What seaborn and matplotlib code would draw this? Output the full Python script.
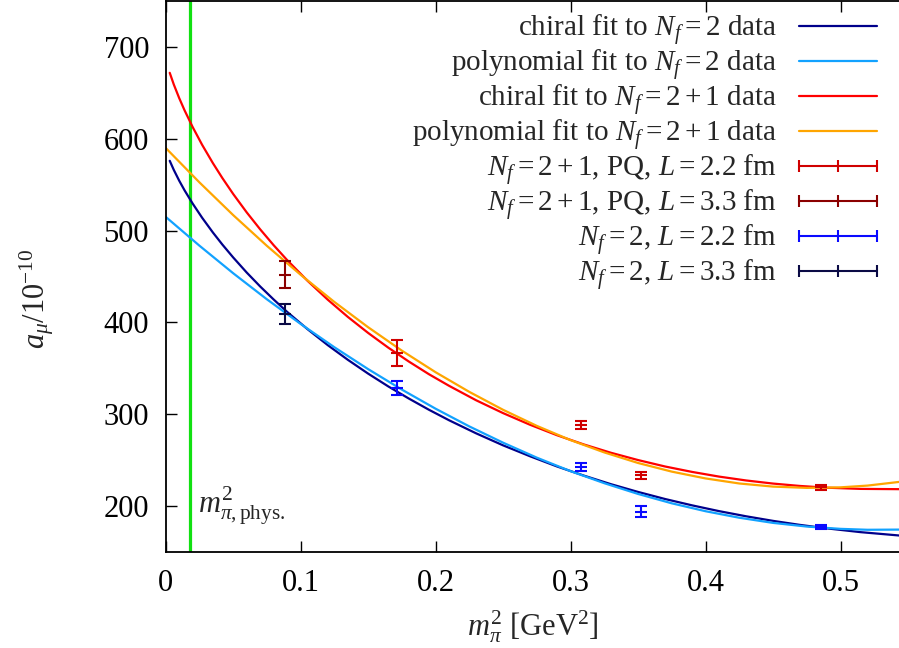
import matplotlib
matplotlib.use("Agg")
import matplotlib.pyplot as plt
import seaborn as sns
from matplotlib.lines import Line2D
from matplotlib.legend_handler import HandlerLine2D

# ---- fit curves, values ----
x_chiral = [0.003, 0.006, 0.01, 0.014, 0.02, 0.027, 0.035, 0.042, 0.05, 0.06,
            0.07, 0.08, 0.09, 0.105, 0.12, 0.135, 0.15, 0.165, 0.18, 0.195,
            0.21, 0.23, 0.25, 0.27, 0.29, 0.31, 0.33, 0.35, 0.37, 0.39,
            0.41, 0.43, 0.45, 0.47, 0.49, 0.515, 0.544]
chiral_nf2 = [576.0, 566.1, 554.4, 543.8, 529.4, 514.0, 497.9, 484.8, 470.8, 454.4,
              439.2, 425.0, 411.5, 392.8, 375.4, 359.3, 344.3, 330.3, 317.3, 305.0,
              293.5, 279.3, 266.2, 254.3, 243.2, 233.2, 223.9, 215.5, 207.8, 200.9,
              194.6, 189.0, 184.0, 179.6, 175.8, 171.7, 168.0]
chiral_nf21 = [671.8, 659.1, 644.3, 630.9, 612.7, 593.4, 573.4, 557.2, 539.9, 519.9,
               501.4, 484.1, 467.9, 445.5, 424.9, 406.0, 388.6, 372.5, 357.6, 343.7,
               331.0, 315.3, 301.3, 288.6, 277.2, 267.1, 258.1, 250.2, 243.2, 237.3,
               232.2, 228.0, 224.6, 222.0, 220.1, 218.8, 218.5]

x_poly = [0.0, 0.025, 0.05, 0.075, 0.1, 0.125, 0.15, 0.175, 0.2, 0.225, 0.25, 0.275,
          0.3, 0.325, 0.35, 0.375, 0.4, 0.425, 0.45, 0.475, 0.5, 0.52, 0.544]
poly_nf2 = [515.0, 483.6, 453.6, 425.2, 398.4, 373.0, 349.2, 326.9, 306.1, 286.8, 269.1, 252.8,
            238.1, 225.0, 213.3, 203.1, 194.5, 187.4, 181.8, 177.8, 175.3, 174.3, 174.5]
poly_nf21 = [590.0, 552.5, 516.9, 483.4, 451.9, 422.3, 394.8, 369.3, 345.8, 324.4, 304.9, 287.4,
             271.9, 258.5, 247.0, 237.6, 230.2, 224.7, 221.3, 219.9, 220.5, 222.4, 226.5]

# ---- lattice data ----
x_nf21_l22 = [0.1714, 0.3076, 0.3524, 0.4854]
y_nf21_l22 = [367.0, 288.0, 233.5, 220.5]
e_nf21_l22 = [14.0, 4.5, 3.5, 3.0]

x_nf21_l33 = [0.0885]
y_nf21_l33 = [452.0]
e_nf21_l33 = [14.5]

x_nf2_l22 = [0.1714, 0.3076, 0.3524, 0.4854]
y_nf2_l22 = [329.0, 243.0, 194.0, 177.0]
e_nf2_l22 = [7.5, 4.5, 6.0, 2.0]

x_nf2_l33 = [0.0885]
y_nf2_l33 = [409.0]
e_nf2_l33 = [11.0]

m2_phys = 0.0182

sns.set_theme(style="ticks")
plt.rcParams["font.family"] = ["Liberation Serif", "DejaVu Serif"]
plt.rcParams["mathtext.fontset"] = "custom"
plt.rcParams["mathtext.rm"] = "Liberation Serif"
plt.rcParams["mathtext.it"] = "Liberation Serif:italic"
plt.rcParams["mathtext.bf"] = "Liberation Serif:bold"

fs = 22
fig = plt.figure(figsize=(8.99, 6.48), dpi=100)
ax = fig.add_axes([0.1843, 0.148, 0.8167, 0.8505])

ax.axvline(m2_phys, color="#11e011", lw=2.3, zorder=1)

sns.lineplot(x=x_chiral, y=chiral_nf2, ax=ax, color="#00008b", lw=1.6,
             label=r"chiral fit to $N_f = 2$ data")
sns.lineplot(x=x_poly, y=poly_nf2, ax=ax, color="#12a2ff", lw=1.6,
             label=r"polynomial fit to $N_f = 2$ data")
sns.lineplot(x=x_chiral, y=chiral_nf21, ax=ax, color="#ff0000", lw=1.6,
             label=r"chiral fit to $N_f = 2+1$ data")
sns.lineplot(x=x_poly, y=poly_nf21, ax=ax, color="#ffa500", lw=1.6,
             label=r"polynomial fit to $N_f = 2+1$ data")

pts = [
    (x_nf21_l22, y_nf21_l22, e_nf21_l22, "#d00000", r"$N_f = 2+1$, PQ, $L = 2.2$ fm"),
    (x_nf21_l33, y_nf21_l33, e_nf21_l33, "#8b0000", r"$N_f = 2+1$, PQ, $L = 3.3$ fm"),
    (x_nf2_l22, y_nf2_l22, e_nf2_l22, "#0a0aff", r"$N_f = 2$, $L = 2.2$ fm"),
    (x_nf2_l33, y_nf2_l33, e_nf2_l33, "#0a0a45", r"$N_f = 2$, $L = 3.3$ fm"),
]
err_handles = []
for xs, ys, es, c, lab in pts:
    ax.errorbar(xs, ys, yerr=es, fmt="_", ms=8, mew=1.5, color=c, ecolor=c,
                elinewidth=1.5, capsize=4, capthick=1.5, zorder=3)
    err_handles.append(Line2D([], [], color=c, lw=1.5, marker="|", ms=9, mew=1.5, label=lab))

ax.text(0.024, 192, r"$m^2_{\pi,\mathrm{phys.}}$", fontsize=fs, ha="left", va="baseline")

ax.set_xlim(0, 0.544)
ax.set_ylim(150, 750)
ax.set_xticks([0, 0.1, 0.2, 0.3, 0.4, 0.5])
ax.set_xticklabels(["0", "0.1", "0.2", "0.3", "0.4", "0.5"])
ax.set_yticks([200, 300, 400, 500, 600, 700])
ax.tick_params(direction="in", length=8, width=1, top=True, right=False,
               labelsize=fs, pad=12, colors="black")
for s in ["left", "bottom", "top"]:
    ax.spines[s].set_linewidth(1.3)
    ax.spines[s].set_color("black")
ax.spines["right"].set_visible(False)

ax.set_xlabel(r"$m_\pi^2$ [GeV$^2$]", fontsize=fs)
ax.set_ylabel(r"$a_\mu/10^{-10}$", fontsize=fs)
ax.xaxis.set_label_coords(0.5, -0.102)
ax.yaxis.set_label_coords(-0.15, 0.46)

handles, labels = ax.get_legend_handles_labels()
handles = handles[:4] + err_handles
labels = labels[:4] + [h.get_label() for h in err_handles]
ax.legend(handles, labels, loc="upper right", bbox_to_anchor=(892 / 899, 650 / 648),
          bbox_transform=fig.transFigure, frameon=False, markerfirst=False,
          fontsize=21, borderpad=0, labelspacing=0.0, handlelength=2.7,
          handletextpad=0.75, handler_map={Line2D: HandlerLine2D(numpoints=3, marker_pad=0)})

fig.savefig("out.png", dpi=100)
